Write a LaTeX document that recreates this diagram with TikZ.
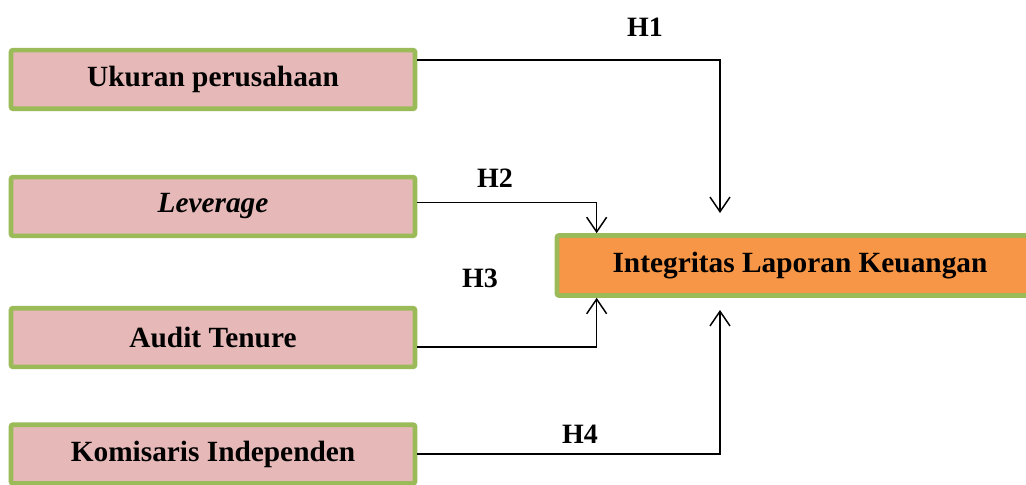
\documentclass[tikz,border=0pt]{standalone}
\usepackage{fontspec}
\setmainfont{Liberation Serif}
\usetikzlibrary{arrows.meta}
\definecolor{boxpink}{HTML}{E6B8B7}
\definecolor{boxgreen}{HTML}{9BBB59}
\definecolor{boxorange}{HTML}{F79646}

\begin{document}
\begin{tikzpicture}[x=0.75pt,y=0.75pt,yscale=-1,xscale=1,
    varbox/.style={draw=boxgreen,line width=3.5pt,rounded corners=1.5pt,fill=boxpink,
        minimum width=303pt,minimum height=44pt,inner sep=0pt,
        font=\fontsize{22}{26}\selectfont\bfseries},
    depbox/.style={varbox,fill=boxorange,minimum width=364.5pt,minimum height=45pt},
    hyp/.style={font=\fontsize{21}{25}\selectfont\bfseries,inner sep=0.75pt},
    link/.style={line width=1.1pt,-{Straight Barb[length=11pt,width=15pt]}}]
    %set diagram size 1026 x 485
    \clip (0,0) rectangle (1026,485);

    % Independent variables
    \node [varbox] (ukuran) at (213,79.5) {Ukuran perusahaan};
    \node [varbox] (leverage) at (213,206.5) {\textit{Leverage}};
    \node [varbox] (tenure) at (213,337.5) {Audit Tenure};
    \node [varbox] (komisaris) at (213,454) {Komisaris Independen};
    % Dependent variable
    \node [depbox] (integritas) at (800,265.5) {Integritas Laporan Keuangan};

    % Free arrow ends
    \coordinate (h1end) at (720,213);
    \coordinate (h4end) at (720,310);

    % Connectors
    \draw [link] ([yshift=-14.6pt]ukuran.east) -| (h1end);
    \draw [link] ([yshift=-3pt]leverage.east) -| ([xshift=31.5pt]integritas.north west);
    \draw [link] ([yshift=7pt]tenure.east) -| ([xshift=31.5pt]integritas.south west);
    \draw [link] (komisaris.east) -| (h4end);

    % Text Node
    \node [hyp] (h1) at (645,27) {H1};
    % Text Node
    \node [hyp] (h2) at (495,178) {H2};
    % Text Node
    \node [hyp] (h3) at (480,278) {H3};
    % Text Node
    \node [hyp] (h4) at (580,434) {H4};

\end{tikzpicture}
\end{document}
